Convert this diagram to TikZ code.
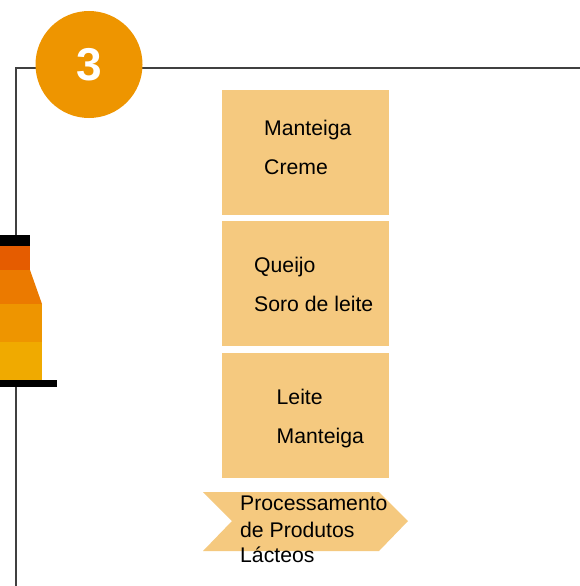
\documentclass[tikz,border=0pt]{standalone}
\usepackage{fontspec}
\setmainfont{Liberation Sans}
\definecolor{boxc}{HTML}{F5C97F}
\definecolor{circ}{HTML}{EE9500}
\definecolor{lin}{HTML}{404040}
\definecolor{bota}{HTML}{E55C00}
\definecolor{botb}{HTML}{EB7A00}
\definecolor{botc}{HTML}{EE9500}
\definecolor{botd}{HTML}{F0AA00}
\tikzset{
  panel/.style={fill=boxc,draw=none},
  lbl/.style={anchor=base west,inner sep=0pt,font=\fontsize{21.2}{25.5}\selectfont,text=black},
  frameline/.style={draw=lin,line width=2pt}
}
\begin{document}
\begin{tikzpicture}[x=1pt,y=-1pt]
\useasboundingbox (0,0) rectangle (580,586);
\fill[white] (0,0) rectangle (580,586);
% frame
\coordinate (fb) at (15.5,586);
\coordinate (fc) at (15.5,68.5);
\coordinate (fr) at (580,68.5);
\draw[frameline] (fb) -- (fc) -- (fr);
% circle
\node (badge) at (89,64.5) [circle,fill=circ,minimum size=107pt,inner sep=0pt,text=white,font=\fontsize{46}{46}\bfseries\selectfont] {3};
% bottle
\fill[black] (0,235) rectangle (30,246);
\fill[bota] (0,246) rectangle (30,270);
\fill[botb] (0,270) -- (30,270) -- (42,304) -- (0,304) -- cycle;
\fill[botc] (0,304) rectangle (42,342);
\fill[botd] (0,342) rectangle (42,380);
\fill[black] (0,380) rectangle (57,387);
% boxes
\fill[panel] (222,90) rectangle (389,215);
\fill[panel] (222,221) rectangle (389,346);
\fill[panel] (222,353) rectangle (389,478);
\fill[panel] (203,492) -- (379,492) -- (408,521) -- (379,551) -- (203,551) -- (232,521) -- cycle;
% texts
\node[lbl] (a1) at (264,135) {Manteiga};
\node[lbl] (a2) at (264,174) {Creme};
\node[lbl] (b1) at (254,272) {Queijo};
\node[lbl] (b2) at (254,311) {Soro de leite};
\node[lbl] (c1) at (276.5,404) {Leite};
\node[lbl] (c2) at (276.5,443) {Manteiga};
\node[lbl] (d1) at (240,510.5) {Processamento};
\node[lbl] (d2) at (240,537) {de Produtos};
\node[lbl] (d3) at (240,562) {Lácteos};
\end{tikzpicture}
\end{document}
